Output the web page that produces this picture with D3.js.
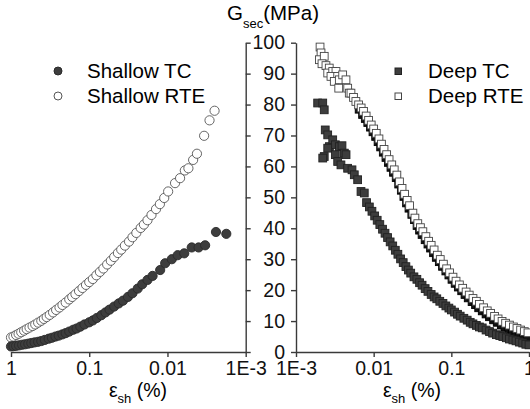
<!DOCTYPE html>
<html>
<head>
<meta charset="utf-8">
<script src="https://cdn.jsdelivr.net/npm/d3@7"></script>
<style>
  body { margin: 0; background: #fff; }
  svg { display: block; font-family: "Liberation Sans", Arial, sans-serif; }
</style>
</head>
<body>
<svg id="chart"></svg>
<script>
"use strict";

// --- data: strain (%) and secant modulus (MPa) ---
const shallowTcStrain = [1.0, 0.93, 0.86, 0.79, 0.72, 0.66, 0.60, 0.55, 0.50, 0.45, 0.41, 0.37, 0.33, 0.30, 0.27, 0.245, 0.22, 0.20, 0.18, 0.16, 0.145, 0.13, 0.115, 0.10, 0.09, 0.08, 0.07, 0.062, 0.055, 0.048, 0.042, 0.037, 0.032, 0.028, 0.024, 0.021, 0.018, 0.0155, 0.0124, 0.0107, 0.0088, 0.0074, 0.0061, 0.0049, 0.0040, 0.0033, 0.0024, 0.00177];
const shallowTcG = [1.8, 1.9, 2.0, 2.15, 2.35, 2.5, 2.7, 2.9, 3.1, 3.3, 3.55, 3.9, 4.3, 4.6, 5.0, 5.3, 5.7, 6.1, 6.6, 7.2, 7.6, 8.2, 8.9, 9.6, 10.2, 11.0, 11.9, 12.8, 13.7, 14.7, 15.7, 16.6, 17.8, 19.0, 20.5, 21.9, 23.3, 24.6, 26.5, 28.7, 30.0, 31.3, 31.9, 33.8, 33.8, 34.5, 38.8, 38.2];

const shallowRteStrain = [1.0, 0.93, 0.86, 0.80, 0.74, 0.68, 0.63, 0.58, 0.53, 0.49, 0.45, 0.41, 0.38, 0.35, 0.32, 0.29, 0.265, 0.24, 0.22, 0.20, 0.18, 0.165, 0.15, 0.135, 0.122, 0.11, 0.10, 0.09, 0.081, 0.073, 0.066, 0.059, 0.053, 0.048, 0.043, 0.039, 0.035, 0.031, 0.028, 0.025, 0.022, 0.020, 0.018, 0.016, 0.014, 0.0125, 0.011, 0.0098, 0.0080, 0.0069, 0.0060, 0.0054, 0.0047, 0.0042, 0.0034, 0.0029, 0.0025];
const shallowRteG = [4.7, 5.0, 5.5, 5.9, 6.4, 6.9, 7.4, 7.9, 8.4, 8.9, 9.5, 10.1, 10.7, 11.3, 12.0, 12.8, 13.6, 14.4, 15.2, 16.0, 17.0, 17.8, 18.7, 19.7, 20.7, 21.7, 22.6, 23.6, 24.8, 25.9, 27.0, 28.3, 29.5, 30.7, 32.0, 33.1, 34.4, 35.7, 37.1, 38.5, 40.1, 41.2, 42.6, 44.3, 46.2, 47.8, 49.8, 51.9, 54.6, 56.2, 58.7, 59.4, 62.1, 64.1, 69.9, 74.9, 78.0];

const deepTcStrain = [0.00190, 0.00221, 0.00231, 0.00238, 0.00256, 0.00269, 0.00297, 0.00321, 0.00361, 0.00391, 0.00419, 0.00441, 0.00256, 0.00231, 0.00221, 0.00321, 0.00344, 0.00379, 0.00462, 0.00526, 0.00563, 0.00622, 0.00687, 0.00757, 0.0081, 0.0088, 0.0095, 0.0103, 0.0111, 0.0120, 0.0130, 0.0140, 0.0151, 0.0163, 0.0176, 0.0190, 0.0205, 0.0222, 0.024, 0.026, 0.028, 0.030, 0.033, 0.036, 0.039, 0.042, 0.046, 0.050, 0.055, 0.060, 0.065, 0.071, 0.078, 0.085, 0.093, 0.10, 0.11, 0.12, 0.13, 0.145, 0.16, 0.175, 0.19, 0.21, 0.23, 0.25, 0.28, 0.31, 0.34, 0.38, 0.42, 0.46, 0.51, 0.56, 0.62, 0.68, 0.75, 0.83, 0.91, 1.0];
const deepTcG = [80.5, 80.5, 78.3, 71.8, 70.2, 66.4, 68.6, 67.0, 66.4, 66.7, 64.3, 63.8, 65.9, 63.2, 62.7, 63.8, 61.6, 60.5, 59.4, 58.9, 57.3, 55.7, 51.9, 51.4, 48.3, 46.9, 45.5, 44.0, 42.6, 41.2, 39.7, 38.4, 37.0, 35.6, 34.3, 32.9, 31.6, 30.1, 28.9, 27.6, 26.5, 25.5, 24.3, 23.5, 22.4, 21.6, 20.5, 19.6, 18.6, 17.8, 17.2, 16.4, 15.7, 14.9, 14.2, 13.6, 12.9, 12.2, 11.6, 10.9, 10.3, 9.6, 9.1, 8.6, 8.1, 7.8, 7.1, 6.6, 6.1, 5.6, 5.3, 5.0, 4.6, 4.2, 3.9, 3.6, 3.2, 2.9, 2.5, 2.3];

// dark squares lying under the RTE band (not in the legend)
const deepDarkStrain = [0.0065, 0.0072, 0.0078, 0.0084, 0.0091, 0.0098, 0.0106, 0.0114, 0.0123, 0.0133, 0.0144, 0.0155, 0.0167, 0.018, 0.0195, 0.021, 0.0227, 0.0245, 0.0265, 0.0285, 0.031, 0.0335, 0.0362, 0.039, 0.042, 0.046, 0.050, 0.054, 0.059, 0.064, 0.070, 0.077, 0.085, 0.093, 0.102, 0.112, 0.123, 0.136, 0.15, 0.165, 0.185, 0.205, 0.225, 0.25, 0.28, 0.31, 0.35, 0.39, 0.44, 0.49, 0.55, 0.61, 0.68, 0.76, 0.85, 0.95];
const deepDarkG = [78.5, 76.8, 75.5, 74.2, 72.7, 71.2, 69.7, 68.0, 66.3, 64.6, 62.9, 61.3, 59.7, 58.1, 56.4, 54.3, 52.3, 50.3, 48.2, 46.5, 44.5, 42.8, 40.9, 39.4, 38.0, 36.3, 34.9, 33.6, 32.1, 30.6, 29.2, 27.7, 26.2, 24.9, 23.5, 22.2, 21.0, 19.8, 18.6, 17.5, 16.3, 15.3, 14.3, 13.3, 12.3, 11.4, 10.4, 9.6, 8.7, 8.0, 7.3, 6.7, 6.2, 5.8, 5.4, 5.0];

const deepRteStrain = [0.00204, 0.00210, 0.00200, 0.00231, 0.00216, 0.00243, 0.00268, 0.00256, 0.00297, 0.00327, 0.00282, 0.00344, 0.00311, 0.00361, 0.00399, 0.00440, 0.00355, 0.00463, 0.00485, 0.0051, 0.0055, 0.0059, 0.0064, 0.0069, 0.0074, 0.0080, 0.0086, 0.0093, 0.0100, 0.0108, 0.0117, 0.0126, 0.0136, 0.0147, 0.0158, 0.0171, 0.0184, 0.0199, 0.0215, 0.0232, 0.0250, 0.027, 0.029, 0.032, 0.034, 0.037, 0.040, 0.043, 0.047, 0.051, 0.055, 0.060, 0.066, 0.072, 0.079, 0.087, 0.095, 0.105, 0.115, 0.127, 0.14, 0.155, 0.17, 0.19, 0.21, 0.23, 0.26, 0.29, 0.32, 0.36, 0.40, 0.45, 0.50, 0.56, 0.63, 0.70, 0.78, 0.87, 0.97];
const deepRteG = [98.6, 96.7, 94.5, 95.6, 93.2, 92.6, 91.8, 90.2, 90.7, 90.7, 89.1, 89.1, 87.5, 88.0, 89.6, 88.0, 85.3, 85.3, 83.7, 83.7, 82.3, 81.0, 79.9, 78.9, 77.8, 76.3, 74.9, 73.4, 72.1, 70.7, 68.9, 67.2, 65.5, 63.8, 62.2, 60.5, 58.9, 57.2, 55.0, 52.9, 51.0, 49.0, 47.3, 44.9, 43.3, 41.5, 40.2, 38.9, 37.3, 35.8, 34.5, 33.0, 31.3, 29.9, 28.4, 26.9, 25.6, 24.2, 22.9, 21.7, 20.6, 19.4, 18.4, 17.3, 16.4, 15.4, 14.3, 13.3, 12.5, 11.5, 10.7, 9.9, 9.3, 8.7, 8.1, 7.6, 7.1, 6.6, 6.2];

const yTicks = [0, 10, 20, 30, 40, 50, 60, 70, 80, 90, 100];
const majorStrain = [1, 0.1, 0.01, 0.001];
const majorLabels = ["1", "0.1", "0.01", "1E-3"];

// --- layout ---
const W = 530, H = 409;
const svg = d3.select("#chart").attr("width", W).attr("height", H);
svg.append("rect").attr("width", W).attr("height", H).attr("fill", "#fff");

const yScale = d3.scaleLinear().domain([0, 100]).range([352, 42.7]);
const xLeft = d3.scaleLog().domain([1, 0.001]).range([11, 245.7]);
const xRight = d3.scaleLog().domain([0.001, 1]).range([296, 529]);

const zip = (xs, ys) => xs.map((x, i) => ({ x: x, y: ys[i] }));
const axisColor = "#3a3a3a";

// minor ticks = every integer step inside each decade
const minorStrain = [];
[0.001, 0.01, 0.1].forEach(d => { for (let k = 2; k <= 9; k++) minorStrain.push(+(d * k).toPrecision(3)); });

function drawXAxis(scale) {
  const g = svg.append("g").attr("transform", "translate(0,352)");
  g.call(d3.axisBottom(scale).tickValues(minorStrain).tickSize(3).tickSizeOuter(0).tickFormat(""));
  g.call(d3.axisBottom(scale).tickValues(majorStrain).tickSize(5).tickSizeOuter(0)
    .tickFormat((d, i) => majorLabels[i]).tickPadding(4));
  g.selectAll("path, line").attr("stroke", axisColor).attr("stroke-width", 1.4);
  g.selectAll("text").attr("font-size", 19.5).attr("fill", "#111")
    .attr("font-family", "Liberation Sans, Arial, sans-serif");
  return g;
}
drawXAxis(xLeft);
drawXAxis(xRight);

// inner y axes: left panel's right side and right panel's left side
const yR = svg.append("g").attr("transform", "translate(245.7,0)")
  .call(d3.axisRight(yScale).tickValues(yTicks).tickSize(5).tickSizeOuter(0).tickFormat(""));
const yL = svg.append("g").attr("transform", "translate(296,0)")
  .call(d3.axisLeft(yScale).tickValues(yTicks).tickSize(5).tickSizeOuter(0).tickPadding(6));
[yR, yL].forEach(g => g.selectAll("path, line").attr("stroke", axisColor).attr("stroke-width", 1.4));
yL.selectAll("text").attr("font-size", 19.5).attr("fill", "#111")
  .attr("font-family", "Liberation Sans, Arial, sans-serif");

// --- markers ---
const circR = 4.6, sq = 7.8;
function circles(data, scale, filled) {
  svg.append("g").selectAll("circle").data(data).enter().append("circle")
    .attr("cx", d => scale(d.x)).attr("cy", d => yScale(d.y)).attr("r", circR)
    .attr("fill", filled ? "#3d3d3d" : "#fff")
    .attr("stroke", filled ? "#2a2a2a" : "#555").attr("stroke-width", 0.9);
}
function squares(data, scale, fill, stroke) {
  svg.append("g").selectAll("rect").data(data).enter().append("rect")
    .attr("x", d => scale(d.x) - sq / 2).attr("y", d => yScale(d.y) - sq / 2)
    .attr("width", sq).attr("height", sq)
    .attr("fill", fill).attr("stroke", stroke).attr("stroke-width", 0.9);
}

circles(zip(shallowRteStrain, shallowRteG), xLeft, false);
circles(zip(shallowTcStrain, shallowTcG), xLeft, true);
squares(zip(deepDarkStrain, deepDarkG), xRight, "#111", "#000");
squares(zip(deepRteStrain, deepRteG), xRight, "#fff", "#444");
squares(zip(deepTcStrain, deepTcG), xRight, "#3d3d3d", "#222");

// --- legends ---
const legFont = 20.5;
svg.append("circle").attr("cx", 58).attr("cy", 71).attr("r", 4).attr("fill", "#3d3d3d").attr("stroke", "#2a2a2a");
svg.append("circle").attr("cx", 58).attr("cy", 96).attr("r", 4).attr("fill", "#fff").attr("stroke", "#555");
svg.append("text").attr("x", 87).attr("y", 78).attr("font-size", legFont).text("Shallow TC");
svg.append("text").attr("x", 87).attr("y", 103).attr("font-size", legFont).text("Shallow RTE");

svg.append("rect").attr("x", 395).attr("y", 68).attr("width", 6.5).attr("height", 6.5).attr("fill", "#3d3d3d").attr("stroke", "#222");
svg.append("rect").attr("x", 395).attr("y", 93).attr("width", 6.5).attr("height", 6.5).attr("fill", "#fff").attr("stroke", "#444");
svg.append("text").attr("x", 428).attr("y", 78).attr("font-size", legFont).text("Deep TC");
svg.append("text").attr("x", 428).attr("y", 103).attr("font-size", legFont).text("Deep RTE");

// --- titles ---
const title = svg.append("text").attr("x", 227).attr("y", 20).attr("font-size", 20.5);
title.append("tspan").text("G");
title.append("tspan").attr("font-size", 13).attr("dy", 8).text("sec");
title.append("tspan").attr("dy", -8).text("(MPa)");

function strainLabel(cx) {
  const t = svg.append("text").attr("x", cx).attr("y", 397).attr("font-size", 19.5).attr("text-anchor", "middle");
  t.append("tspan").text("\u03b5");
  t.append("tspan").attr("font-size", 13).attr("dy", 6).text("sh");
  t.append("tspan").attr("dy", -6).text(" (%)");
}
strainLabel(138);
strainLabel(412);
</script>
</body>
</html>
